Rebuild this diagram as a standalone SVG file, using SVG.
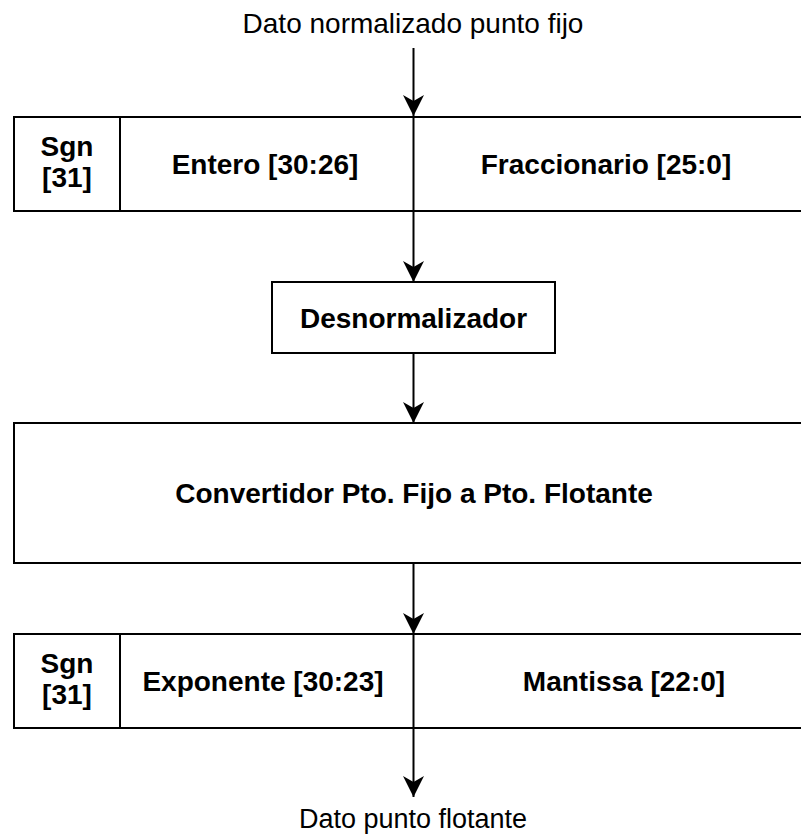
<svg xmlns="http://www.w3.org/2000/svg" width="801" height="836" viewBox="0 0 801 836">
  <defs>
    <style>
      .box { fill: #ffffff; stroke: #000000; stroke-width: 2; }
      .div { stroke: #000000; stroke-width: 2; fill: none; }
      .edge { stroke: #000000; stroke-width: 2; fill: none; marker-end: url(#arrow); }
      .lbl { font-family: "Liberation Sans", Arial, Helvetica, sans-serif; font-size: 27px; fill: #000000; text-anchor: middle; }
      .b { font-weight: bold; font-size: 28px; }
    </style>
    <!-- classic arrowhead, tip at the end point of the line -->
    <marker id="arrow" markerUnits="userSpaceOnUse" markerWidth="24" markerHeight="24" viewBox="-22 -12 24 24" refX="0" refY="0" orient="auto">
      <path d="M0,0 L-21,-10.5 L-15,0 L-21,10.5 Z" fill="#000000"/>
    </marker>
  </defs>

  <rect width="801" height="836" fill="#ffffff"/>

  <!-- input / output labels -->
  <g id="input-label">
    <text class="lbl" x="413" y="33" style="font-size:28px">Dato normalizado punto fijo</text>
  </g>
  <g id="output-label">
    <text class="lbl" x="413" y="828">Dato punto flotante</text>
  </g>

  <!-- fixed-point word: sign | integer | fraction -->
  <g id="fixed-word">
    <rect class="box" x="14" y="117" width="800" height="94"/>
    <line class="div" x1="120" y1="117" x2="120" y2="211"/>
    <line class="div" x1="413.5" y1="117" x2="413.5" y2="211"/>
    <text class="lbl b" x="67" y="156">Sgn</text>
    <text class="lbl b" x="67" y="187">[31]</text>
    <text class="lbl b" x="265" y="174">Entero [30:26]</text>
    <text class="lbl b" x="606" y="174">Fraccionario [25:0]</text>
  </g>

  <g id="desnormalizador">
    <rect class="box" x="272" y="282" width="283" height="71"/>
    <text class="lbl b" x="413.5" y="328">Desnormalizador</text>
  </g>

  <g id="convertidor">
    <rect class="box" x="14" y="423" width="800" height="140"/>
    <text class="lbl b" x="414" y="503">Convertidor Pto. Fijo a Pto. Flotante</text>
  </g>

  <!-- floating-point word: sign | exponent | mantissa -->
  <g id="float-word">
    <rect class="box" x="14" y="634" width="800" height="94"/>
    <line class="div" x1="120" y1="634" x2="120" y2="728"/>
    <line class="div" x1="413.5" y1="634" x2="413.5" y2="728"/>
    <text class="lbl b" x="67" y="673">Sgn</text>
    <text class="lbl b" x="67" y="704">[31]</text>
    <text class="lbl b" x="263" y="691">Exponente [30:23]</text>
    <text class="lbl b" x="624" y="691">Mantissa [22:0]</text>
  </g>

  <g id="connectors">
    <line class="edge" x1="413.5" y1="48" x2="413.5" y2="116"/>
    <line class="edge" x1="413.5" y1="211" x2="413.5" y2="282"/>
    <line class="edge" x1="413.5" y1="353" x2="413.5" y2="423"/>
    <line class="edge" x1="413.5" y1="563" x2="413.5" y2="634"/>
    <line class="edge" x1="413.5" y1="728" x2="413.5" y2="797"/>
  </g>
</svg>
